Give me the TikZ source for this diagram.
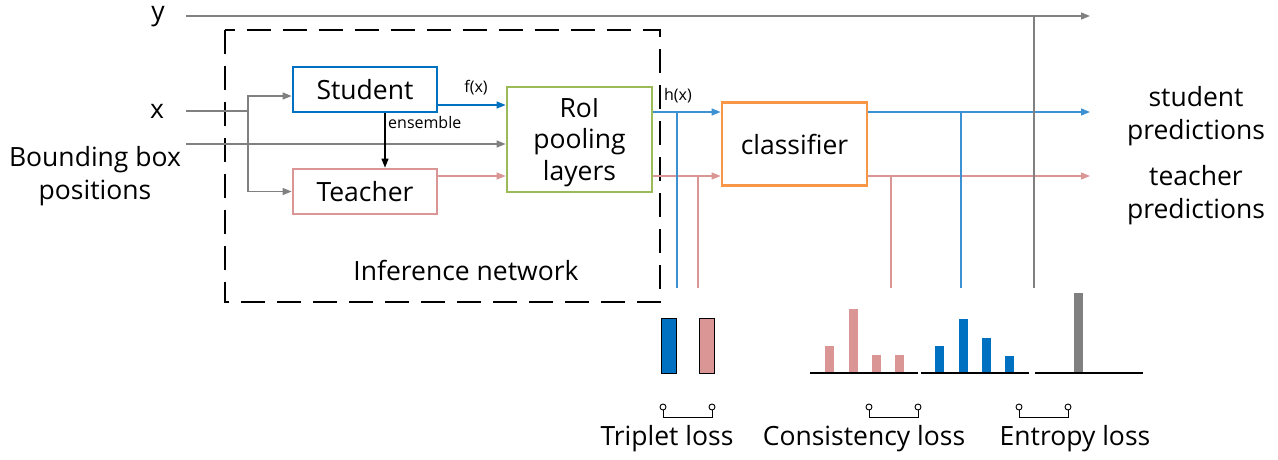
\documentclass[tikz,border=0pt]{standalone}
\usepackage{fontspec}
\setmainfont{Open Sans}
\usetikzlibrary{arrows.meta}
\definecolor{sblue}{RGB}{0,112,192}
\definecolor{lblue}{RGB}{60,145,210}
\definecolor{tpink}{RGB}{217,150,148}
\definecolor{rgreen}{RGB}{155,187,89}
\definecolor{corange}{RGB}{247,150,70}
\definecolor{lgray}{RGB}{128,128,128}
\tikzset{
  big/.style={font=\fontsize{26.5}{33}\selectfont, inner sep=0pt, align=center},
  small/.style={font=\fontsize{16}{18}\selectfont, inner sep=0pt},
  box/.style={draw, line width=2.8pt, fill=white},
  tip/.style={-{Triangle[length=9pt,width=7pt]}},
  conn/.style={line width=1.3pt},
  base/.style={line width=1.6pt, black},
  brk/.style={line width=1pt, black},
  ring/.style={circle, draw=black, fill=white, line width=0.9pt, minimum size=6pt, inner sep=0pt},
}
\begin{document}
\begin{tikzpicture}[x=1pt,y=-1pt]
\useasboundingbox (0,0) rectangle (1278,459);
% dashed frame
\draw[dash pattern=on 24pt off 12pt, line width=1.8pt] (225,30) rectangle (660,302);
\node[big] (inf) at (466,270) {Inference network};

% labels left
\node[big] (ylab) at (158,17) {y};
\node[big] (xlab) at (157,111) {x};
\node[big] (bblab) at (95,176) {Bounding box\\positions};

% boxes
\node[box, draw=sblue, minimum width=144pt, minimum height=45pt] (stu) at (365,89.5) {};
\node[big] at (stu.center) {Student};
\node[box, draw=tpink, minimum width=144pt, minimum height=45pt] (tea) at (365,191.5) {};
\node[big] at (tea.center) {Teacher};
\node[box, draw=rgreen, minimum width=145pt, minimum height=105pt] (roi) at (579.5,139.5) {};
\node[big, font=\fontsize{26.5}{31.5}\selectfont] at ([yshift=-3pt]roi.center) {RoI\\pooling\\layers};
\node[box, draw=corange, minimum width=145pt, minimum height=83pt] (cls) at (794.5,144) {};
\node[big] at (cls.center) {classifier};

% coordinates
\coordinate (ys) at (186,16);
\coordinate (ye) at (1090,16);
\coordinate (xs) at (186,111);
\coordinate (xj) at (248,111);
\coordinate (bs) at (186,144);
\coordinate (vb1) at (677,112);
\coordinate (vp1) at (698,176);
\coordinate (vp2) at (891,176);
\coordinate (vb2) at (961,112);
\coordinate (vg) at (1034,16);
\coordinate (sp) at (1090,112);
\coordinate (tp) at (1090,176);

% y line
\draw[conn, lgray, tip] (ys) -- (ye);
% x split
\draw[conn, lgray] (xs) -- (xj);
\draw[conn, lgray, tip] (xj) |- (stu.west |- 0,96);
\draw[conn, lgray, tip] (xj) |- (tea.west);
% bounding box line
\draw[conn, lgray, tip] (bs) -- (roi.west |- bs);
% ensemble
\draw[conn, black, tip] (stu.south -| 385,0) -- (tea.north -| 385,0);
\node[small, anchor=west] (ens) at (388,122) {ensemble};
% f(x)
\draw[conn, sblue, tip] (stu.east |- 0,105) -- (roi.west |- 0,105);
\node[small] (fx) at (476,88) {f(x)};
% teacher to roi
\draw[conn, tpink, tip] (tea.east |- 0,176) -- (roi.west |- 0,176);
% h(x)
\node[small] (hx) at (678,96) {h(x)};
\draw[conn, lblue, tip] (roi.east |- vb1) -- (cls.west |- vb1);
\draw[conn, tpink, tip] (roi.east |- vp1) -- (cls.west |- vp1);
% outputs
\draw[conn, lblue, tip] (cls.east |- sp) -- (sp);
\draw[conn, tpink, tip] (cls.east |- tp) -- (tp);
\node[big] (slab) at (1196,116) {student\\predictions};
\node[big] (tlab) at (1196,195) {teacher\\predictions};

% vertical taps
\draw[conn, lblue] (vb1) -- (vb1 |- 0,288);
\draw[conn, tpink] (vp1) -- (vp1 |- 0,288);
\draw[conn, tpink] (vp2) -- (vp2 |- 0,288);
\draw[conn, lblue] (vb2) -- (vb2 |- 0,288);
\draw[conn, lgray] (vg) -- (vg |- 0,288);

% triplet bars
\draw[fill=sblue, draw=black, line width=0.9pt] (661,318) rectangle (676,373);
\draw[fill=tpink, draw=black, line width=0.9pt] (699,318) rectangle (714,373);

% consistency bars
\fill[tpink] (825,346) rectangle (834,373);
\fill[tpink] (849,309) rectangle (858,373);
\fill[tpink] (872,355) rectangle (881,373);
\fill[tpink] (895,355) rectangle (904,373);
\fill[sblue] (935,346) rectangle (944,373);
\fill[sblue] (959,319) rectangle (968,373);
\fill[sblue] (982,338) rectangle (991,373);
\fill[sblue] (1005,356) rectangle (1014,373);
\fill[lgray] (1074,293) rectangle (1083,373);
\draw[base] (810,373) -- (918,373);
\draw[base] (921,373) -- (1029,373);
\draw[base] (1035,373) -- (1143,373);

% brackets
\node[ring] (t1) at (663,407) {};
\node[ring] (t2) at (712,407) {};
\draw[brk] (t1) -- (663,417) -- (712,417) -- (t2);
\node[ring] (c1) at (869,407) {};
\node[ring] (c2) at (918,407) {};
\draw[brk] (c1) -- (869,417) -- (918,417) -- (c2);
\node[ring] (e1) at (1019,407) {};
\node[ring] (e2) at (1068,407) {};
\draw[brk] (e1) -- (1019,417) -- (1068,417) -- (e2);

\node[big] (tl) at (667,439) {Triplet loss};
\node[big] (cl) at (864,439) {Consistency loss};
\node[big] (el) at (1075,439) {Entropy loss};
\end{tikzpicture}
\end{document}
